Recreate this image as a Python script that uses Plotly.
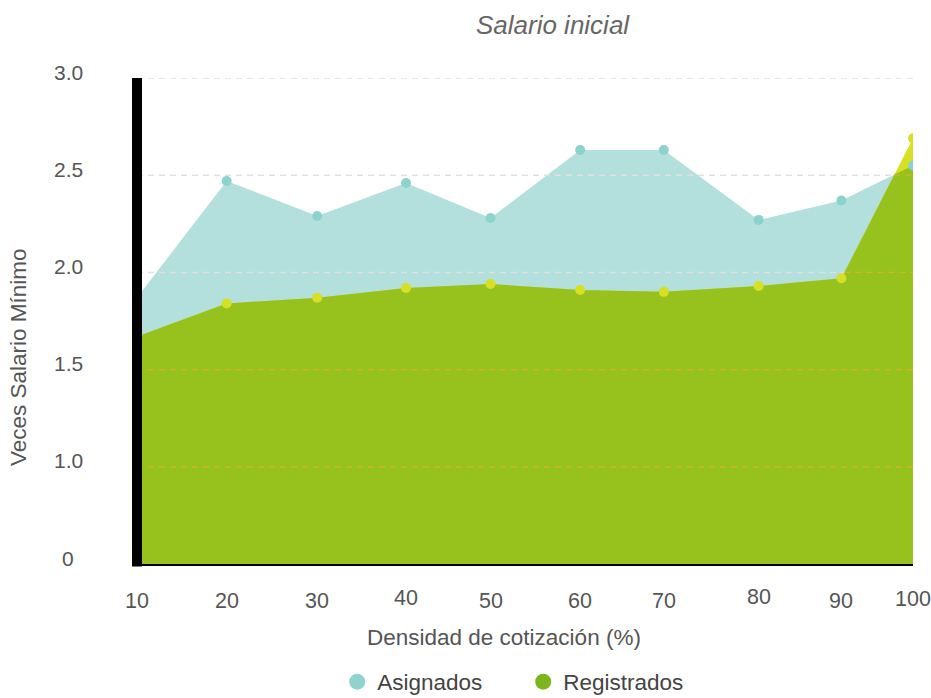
import plotly.graph_objects as go

# Densidad de cotización: etiquetas y posición de cada punto en el eje
densidad_labels = ["10", "20", "30", "40", "50", "60", "70", "80", "90", "100"]
densidad_pos = [10, 20.4, 30.9, 41.2, 51.0, 61.4, 71.1, 82.1, 91.7, 100]

# Veces salario mínimo
asignados = [1.87, 2.47, 2.29, 2.46, 2.28, 2.63, 2.63, 2.27, 2.37, 2.55]
registrados = [1.67, 1.84, 1.87, 1.92, 1.94, 1.91, 1.90, 1.93, 1.97, 2.69]

# Eje vertical
y_ticks = [0.5, 1.0, 1.5, 2.0, 2.5, 3.0]
y_tick_labels = ["0", "1.0", "1.5", "2.0", "2.5", "3.0"]

# Ligero escalonado vertical (px) de las etiquetas del eje x
x_label_lift = [0, 0, 0, 3, 0, 0, 0, 4, 0, 2]

FONT = "Liberation Sans, Arial, sans-serif"
TEXT = "#555555"
TEAL_FILL = "#b3dfdc"
TEAL_DOT = "#8dd3cd"
YELLOW = "#d7e022"
GREEN = "#97c21e"
GRID_LIGHT = "#e4dfdf"
GRID_GOLD = "#d6b12e"


def lower_envelope(x, a, b):
    """Polyline of min(a, b), adding the points where the two series cross."""
    xs, ys = [], []
    for i in range(len(x)):
        if i > 0:
            d0 = a[i - 1] - b[i - 1]
            d1 = a[i] - b[i]
            if d0 * d1 < 0:
                t = d0 / (d0 - d1)
                xs.append(x[i - 1] + t * (x[i] - x[i - 1]))
                ys.append(a[i - 1] + t * (a[i] - a[i - 1]))
        xs.append(x[i])
        ys.append(min(a[i], b[i]))
    return xs, ys


def split_level(xs, ys, level):
    """Intervals of x where the polyline is at or above `level` / below it."""
    pts = []
    for i in range(len(xs)):
        if i > 0:
            d0 = ys[i - 1] - level
            d1 = ys[i] - level
            if d0 * d1 < 0:
                t = d0 / (d0 - d1)
                pts.append((xs[i - 1] + t * (xs[i] - xs[i - 1]), level))
        pts.append((xs[i], ys[i]))
    above, below = [], []
    for (x0, y0), (x1, y1) in zip(pts[:-1], pts[1:]):
        mid = (y0 + y1) / 2
        target = above if mid >= level - 1e-9 else below
        if target and abs(target[-1][1] - x0) < 1e-9:
            target[-1][1] = x1
        else:
            target.append([x0, x1])
    return above, below


env_x, env_y = lower_envelope(densidad_pos, asignados, registrados)

fig = go.Figure()

# Área de asignados
fig.add_trace(go.Scatter(
    x=densidad_pos, y=asignados, mode="lines", fill="tozeroy",
    fillcolor=TEAL_FILL, line=dict(width=0, color=TEAL_FILL),
    showlegend=False, hoverinfo="skip",
))
# Área de registrados
fig.add_trace(go.Scatter(
    x=densidad_pos, y=registrados, mode="lines", fill="tozeroy",
    fillcolor=YELLOW, line=dict(width=0, color=YELLOW),
    showlegend=False, hoverinfo="skip",
))
# Zona común a ambas series
fig.add_trace(go.Scatter(
    x=env_x, y=env_y, mode="lines", fill="tozeroy",
    fillcolor=GREEN, line=dict(width=0, color=GREEN),
    showlegend=False, hoverinfo="skip",
))
# Puntos
fig.add_trace(go.Scatter(
    x=densidad_pos, y=asignados, mode="markers",
    marker=dict(size=10, color=TEAL_DOT), showlegend=False,
    name="Asignados",
))
fig.add_trace(go.Scatter(
    x=densidad_pos, y=registrados, mode="markers",
    marker=dict(size=10, color=YELLOW), showlegend=False,
    name="Registrados",
))
# Entradas de leyenda
fig.add_trace(go.Scatter(
    x=[None], y=[None], mode="markers", name="Asignados",
    marker=dict(size=16, color="#8fd3cf"),
))
fig.add_trace(go.Scatter(
    x=[None], y=[None], mode="markers", name="Registrados",
    marker=dict(size=16, color="#7cb61c"),
))

# Líneas de referencia punteadas, dibujadas sobre las áreas
shapes = []
for level in y_ticks[1:]:
    above, below = split_level(env_x, env_y, level)
    for x0, x1 in below:
        shapes.append(dict(type="line", xref="x", yref="y", x0=x0, x1=x1,
                           y0=level, y1=level, layer="above",
                           line=dict(color=GRID_LIGHT, width=1.5, dash="6px,5px")))
    for x0, x1 in above:
        shapes.append(dict(type="line", xref="x", yref="y", x0=x0, x1=x1,
                           y0=level, y1=level, layer="above",
                           line=dict(color=GRID_GOLD, width=1.2, dash="6px,5px")))
# Eje vertical grueso, centrado en el borde izquierdo del área de trazado
shapes.append(dict(type="line", xref="paper", yref="paper", x0=0, x1=0,
                   y0=-0.005, y1=1, layer="above",
                   line=dict(color="black", width=10)))

annotations = []
for v, t in zip(y_ticks, y_tick_labels):
    annotations.append(dict(
        text=t, x=0, xref="paper", xshift=-69, xanchor="center",
        y=v, yref="y", yanchor="middle", yshift=6, showarrow=False,
        font=dict(family=FONT, size=21, color=TEXT),
    ))
for p, t, lift in zip(densidad_pos, densidad_labels, x_label_lift):
    annotations.append(dict(
        text=t, x=p, xref="x", xanchor="center",
        y=0, yref="paper", yanchor="middle", yshift=-37 + lift, showarrow=False,
        font=dict(family=FONT, size=21.5, color=TEXT),
    ))
annotations.append(dict(
    text="Densidad de cotización (%)", x=0.5, xref="paper", xshift=-21,
    y=0, yref="paper", yshift=-73, yanchor="middle", showarrow=False,
    font=dict(family=FONT, size=22.5, color=TEXT),
))
annotations.append(dict(
    text="Veces Salario Mínimo", x=0, xref="paper", xshift=-119,
    xanchor="center", y=0.5, yref="paper", yshift=-36, yanchor="middle",
    textangle=-90, showarrow=False,
    font=dict(family=FONT, size=22.5, color=TEXT),
))

fig.update_layout(
    width=931, height=698,
    margin=dict(l=137, r=18, t=78, b=134),
    paper_bgcolor="white", plot_bgcolor="white",
    title=dict(
        text="<i>Salario inicial</i>", x=0.5355, xref="paper", xanchor="center",
        y=1 - 25 / 698, yref="container", yanchor="middle",
        font=dict(family=FONT, size=26, color="#666666"),
    ),
    xaxis=dict(range=[10, 100], showgrid=False, zeroline=False,
               showticklabels=False, showline=True, linecolor="black",
               linewidth=2, ticks=""),
    yaxis=dict(range=[0.5, 3.0], showgrid=False, zeroline=False,
               showticklabels=False, showline=False, ticks=""),
    showlegend=True,
    legend=dict(orientation="h", x=0.258, xanchor="left",
                y=16 / 698, yref="container", yanchor="middle",
                font=dict(family=FONT, size=22.5, color="#444444"),
                entrywidth=141, itemclick=False, itemdoubleclick=False),
    shapes=shapes,
    annotations=annotations,
)

fig.write_html("out.html")
